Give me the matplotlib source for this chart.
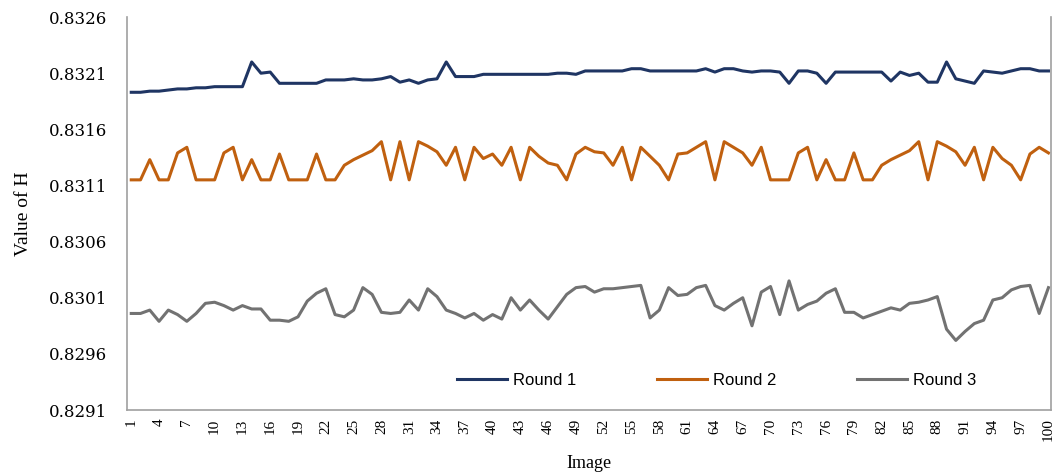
import matplotlib
matplotlib.use("Agg")
import matplotlib.pyplot as plt
import numpy as np

images = list(range(1, 101))

round_1 = [
    0.83193, 0.83193, 0.83194, 0.83194, 0.83195, 0.83196, 0.83196, 0.83197, 0.83197, 0.83198,
    0.83198, 0.83198, 0.83198, 0.83220, 0.83210, 0.83211, 0.83201, 0.83201, 0.83201, 0.83201,
    0.83201, 0.83204, 0.83204, 0.83204, 0.83205, 0.83204, 0.83204, 0.83205, 0.83207, 0.83202,
    0.83204, 0.83201, 0.83204, 0.83205, 0.83220, 0.83207, 0.83207, 0.83207, 0.83209, 0.83209,
    0.83209, 0.83209, 0.83209, 0.83209, 0.83209, 0.83209, 0.83210, 0.83210, 0.83209, 0.83212,
    0.83212, 0.83212, 0.83212, 0.83212, 0.83214, 0.83214, 0.83212, 0.83212, 0.83212, 0.83212,
    0.83212, 0.83212, 0.83214, 0.83211, 0.83214, 0.83214, 0.83212, 0.83211, 0.83212, 0.83212,
    0.83211, 0.83201, 0.83212, 0.83212, 0.83210, 0.83201, 0.83211, 0.83211, 0.83211, 0.83211,
    0.83211, 0.83211, 0.83203, 0.83211, 0.83208, 0.83210, 0.83202, 0.83202, 0.83220, 0.83205,
    0.83203, 0.83201, 0.83212, 0.83211, 0.83210, 0.83212, 0.83214, 0.83214, 0.83212, 0.83212,
]

round_2 = [
    0.83115, 0.83115, 0.83133, 0.83115, 0.83115, 0.83139, 0.83144, 0.83115, 0.83115, 0.83115,
    0.83139, 0.83144, 0.83115, 0.83133, 0.83115, 0.83115, 0.83138, 0.83115, 0.83115, 0.83115,
    0.83138, 0.83115, 0.83115, 0.83128, 0.83133, 0.83137, 0.83141, 0.83149, 0.83115, 0.83149,
    0.83115, 0.83149, 0.83145, 0.83140, 0.83128, 0.83144, 0.83115, 0.83144, 0.83134, 0.83138,
    0.83128, 0.83144, 0.83115, 0.83144, 0.83136, 0.83130, 0.83128, 0.83115, 0.83138, 0.83144,
    0.83140, 0.83139, 0.83128, 0.83144, 0.83115, 0.83144, 0.83136, 0.83128, 0.83115, 0.83138,
    0.83139, 0.83144, 0.83149, 0.83115, 0.83149, 0.83144, 0.83139, 0.83128, 0.83144, 0.83115,
    0.83115, 0.83115, 0.83139, 0.83144, 0.83115, 0.83133, 0.83115, 0.83115, 0.83139, 0.83115,
    0.83115, 0.83128, 0.83133, 0.83137, 0.83141, 0.83149, 0.83115, 0.83149, 0.83145, 0.83140,
    0.83128, 0.83144, 0.83115, 0.83144, 0.83134, 0.83128, 0.83115, 0.83138, 0.83144, 0.83139,
]

round_3 = [
    0.82996, 0.82996, 0.82999, 0.82989, 0.82999, 0.82995, 0.82989, 0.82996, 0.83005, 0.83006,
    0.83003, 0.82999, 0.83003, 0.83000, 0.83000, 0.82990, 0.82990, 0.82989, 0.82993, 0.83007,
    0.83014, 0.83018, 0.82995, 0.82993, 0.82999, 0.83019, 0.83013, 0.82997, 0.82996, 0.82997,
    0.83008, 0.82999, 0.83018, 0.83011, 0.82999, 0.82996, 0.82992, 0.82996, 0.82990, 0.82995,
    0.82991, 0.83010, 0.82999, 0.83008, 0.82999, 0.82991, 0.83002, 0.83013, 0.83019, 0.83020,
    0.83015, 0.83018, 0.83018, 0.83019, 0.83020, 0.83021, 0.82992, 0.82999, 0.83019, 0.83012,
    0.83013, 0.83019, 0.83021, 0.83003, 0.82999, 0.83005, 0.83010, 0.82985, 0.83015, 0.83020,
    0.82995, 0.83025, 0.82999, 0.83004, 0.83007, 0.83014, 0.83018, 0.82997, 0.82997, 0.82992,
    0.82995, 0.82998, 0.83001, 0.82999, 0.83005, 0.83006, 0.83008, 0.83011, 0.82982, 0.82972,
    0.82980, 0.82987, 0.82990, 0.83008, 0.83010, 0.83017, 0.83020, 0.83021, 0.82996, 0.83019,
]

series_names = ["Round 1", "Round 2", "Round 3"]
series_colors = ["#1F3563", "#C0600F", "#727272"]

y_ticks = [0.8291, 0.8296, 0.8301, 0.8306, 0.8311, 0.8316, 0.8321, 0.8326]
x_ticks = list(range(1, 101, 3))

fig = plt.figure(figsize=(10.64, 4.74), dpi=100)
ax = fig.add_axes([0.119, 0.135, 0.869, 0.829])

for vals, name, col in zip([round_1, round_2, round_3], series_names, series_colors):
    ax.plot(images, vals, color=col, lw=2.2, label=name, solid_joinstyle="round")

ax.set_xlim(0.5, 100.3)
ax.set_ylim(y_ticks[0], y_ticks[-1])
ax.set_yticks(y_ticks)
ax.set_yticklabels([f"{v:.4f}" for v in y_ticks], family="DejaVu Serif", fontsize=12)
ax.set_xticks(x_ticks)
ax.set_xticklabels([str(t) for t in x_ticks], rotation=90, family="Liberation Serif",
                   fontsize=11)
ax.tick_params(axis="y", length=0, pad=14)
ax.tick_params(axis="x", length=0, pad=6)

for side in ["left", "right", "bottom"]:
    ax.spines[side].set_color("#A0A0A0")
    ax.spines[side].set_linewidth(1.2)
ax.spines["top"].set_visible(False)

ax.set_xlabel("Image", family="Liberation Serif", fontsize=13, labelpad=10)
ax.set_ylabel("Value of H", family="Liberation Serif", fontsize=14, labelpad=12)

leg = ax.legend(loc="center", bbox_to_anchor=(0.638, 0.076), ncol=3, frameon=False,
                prop={"family": "Liberation Sans", "size": 12},
                handlelength=3.0, handletextpad=0.4, columnspacing=4.8)

fig.savefig("out.png", dpi=100)
